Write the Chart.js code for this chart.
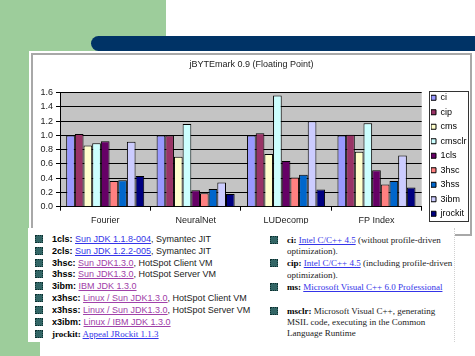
<!DOCTYPE html>
<html><head><meta charset="utf-8">
<script src="https://cdn.jsdelivr.net/npm/chart.js@4/dist/chart.umd.min.js"></script>
<style>
html,body{margin:0;padding:0;background:#fff;width:475px;height:356px;overflow:hidden;position:relative;font-family:"Liberation Sans",Arial,sans-serif}
.g{position:absolute;background:#9dcd9b}
#blue{position:absolute;left:91px;top:36px;width:384px;height:15px;background:#003366;border-radius:7.5px 0 0 7.5px}
#box{position:absolute;left:31px;top:53px;width:437px;height:179px;border:2px solid #a8a8a8;background:#fff}
#cv{position:absolute;left:0;top:0}
#txt{position:absolute;left:28px;top:228px;width:426px;height:114px;background:#fff;border-right:1px dotted #d0d0d0}
.r{position:absolute;height:12px;line-height:12px;white-space:nowrap;font-size:9px;color:#222}
.s{font-family:"Liberation Serif","Times New Roman",serif;font-size:9px;color:#222}
.r b{color:#000}
.bl{color:#3434e8;text-decoration:underline}
.pu{color:#a040a8;text-decoration:underline}
.q{position:absolute;width:6px;height:6px;background:#336666;border:1px dotted #0c3030}
</style></head>
<body>
<div class="g" style="left:0;top:0;width:166px;height:51px"></div>
<div class="g" style="left:0;top:0;width:29px;height:356px"></div>
<div class="g" style="left:0;top:342px;width:40px;height:14px"></div>
<div id="blue"></div>
<div id="box"><canvas id="cv" width="437" height="178"></canvas></div>
<div id="txt">
  <div class="q" style="left:7px;top:7px"></div><div class="r" style="left:24px;top:5px"><b>1cls:</b> <span class="bl">Sun JDK 1.1.8-004</span>, Symantec JIT</div>
  <div class="q" style="left:7px;top:19px"></div><div class="r" style="left:24px;top:17px"><b>2cls:</b> <span class="bl">Sun JDK 1.2.2-005</span>, Symantec JIT</div>
  <div class="q" style="left:7px;top:30.7px"></div><div class="r" style="left:24px;top:28.7px"><b>3hsc:</b> <span class="pu">Sun JDK1.3.0</span>, HotSpot Client VM</div>
  <div class="q" style="left:7px;top:42.3px"></div><div class="r" style="left:24px;top:40.3px"><b>3hss:</b> <span class="pu">Sun JDK1.3.0</span>, HotSpot Server VM</div>
  <div class="q" style="left:7px;top:54px"></div><div class="r" style="left:24px;top:52px"><b>3ibm:</b> <span class="pu">IBM JDK 1.3.0</span></div>
  <div class="q" style="left:7px;top:66px"></div><div class="r" style="left:24px;top:64px"><b>x3hsc:</b> <span class="pu">Linux / Sun JDK1.3.0</span>, HotSpot Client VM</div>
  <div class="q" style="left:7px;top:77.7px"></div><div class="r" style="left:24px;top:75.7px"><b>x3hss:</b> <span class="pu">Linux / Sun JDK1.3.0</span>, HotSpot Server VM</div>
  <div class="q" style="left:7px;top:89.7px"></div><div class="r" style="left:24px;top:87.7px"><b>x3ibm:</b> <span class="pu">Linux / IBM JDK 1.3.0</span></div>
  <div class="q" style="left:7px;top:101.7px"></div><div class="r s" style="left:24px;top:99.7px"><b>jrockit:</b> <span class="bl">Appeal JRockit 1.1.3</span></div>

  <div class="q" style="left:242px;top:8px"></div><div class="r s" style="left:259px;top:6px"><b>ci:</b> <span class="bl">Intel C/C++ 4.5</span> (without profile-driven</div>
  <div class="r s" style="left:259px;top:16.5px">optimization).</div>
  <div class="q" style="left:242px;top:30.7px"></div><div class="r s" style="left:259px;top:28.7px"><b>cip:</b> <span class="bl">Intel C/C++ 4.5</span> (including profile-driven</div>
  <div class="r s" style="left:259px;top:41px">optimization).</div>
  <div class="q" style="left:242px;top:54.7px"></div><div class="r s" style="left:259px;top:52.7px"><b>ms:</b> <span class="bl">Microsoft Visual C++ 6.0 Professional</span></div>
  <div class="q" style="left:242px;top:78.7px"></div><div class="r s" style="left:259px;top:76.7px"><b>msclr:</b> Microsoft Visual C++, generating</div>
  <div class="r s" style="left:259px;top:88px">MSIL code, executing in the Common</div>
  <div class="r s" style="left:259px;top:99px">Language Runtime</div>
</div>
<script>
const categories = ['Fourier', 'NeuralNet', 'LUDecomp', 'FP Index'];
const seriesNames = ['ci', 'cip', 'cms', 'cmsclr', '1cls', '3hsc', '3hss', '3ibm', 'jrockit'];
const ci      = [1.00, 1.00, 1.00, 1.00];
const cip     = [1.02, 1.00, 1.03, 1.01];
const cms     = [0.86, 0.70, 0.74, 0.77];
const cmsclr  = [0.89, 1.16, 1.56, 1.17];
const cls1    = [0.92, 0.23, 0.64, 0.51];
const hsc3    = [0.36, 0.19, 0.41, 0.31];
const hss3    = [0.37, 0.25, 0.45, 0.36];
const ibm3    = [0.91, 0.34, 1.20, 0.72];
const jrockit = [0.43, 0.18, 0.24, 0.27];
const seriesValues = [ci, cip, cms, cmsclr, cls1, hsc3, hss3, ibm3, jrockit];
const seriesColors = ['#9999ff', '#993366', '#ffffcc', '#ccffff', '#660066', '#ff8080', '#0066cc', '#ccccff', '#000080'];

const F = '"Liberation Sans", Arial, sans-serif';

const plotBg = {
  id: 'plotBg',
  beforeDraw(c) {
    const a = c.chartArea, ctx = c.ctx;
    ctx.save();
    ctx.fillStyle = '#c4c4c4';
    ctx.fillRect(a.left, a.top, a.right - a.left, a.bottom - a.top);
    ctx.restore();
  }
};
const legendBorder = {
  id: 'legendBorder',
  afterDraw(c) {
    const L = c.legend, hb = L.legendHitBoxes;
    if (!hb || !hb.length) return;
    const ctx = c.ctx;
    const first = hb[0], last = hb[hb.length - 1];
    const top = Math.round(first.top - 2);
    const bot = Math.round(last.top + 9 + 3);
    const left = Math.round(L.left - 2), right = Math.round(L.right - 1);
    ctx.save();
    ctx.strokeStyle = '#333';
    ctx.lineWidth = 1;
    ctx.strokeRect(left + 0.5, top + 0.5, right - left - 1, bot - top);
    ctx.restore();
  }
};

new Chart(document.getElementById('cv'), {
  type: 'bar',
  data: {
    labels: categories,
    datasets: seriesNames.map((n, i) => ({
      label: n,
      data: seriesValues[i],
      backgroundColor: seriesColors[i],
      borderColor: '#000',
      borderWidth: 1,
      categoryPercentage: 0.863,
      barPercentage: 1.0
    }))
  },
  options: {
    responsive: false,
    animation: false,
    devicePixelRatio: 1,
    layout: { padding: { top: 0, left: 0, right: 0, bottom: 9.25 } },
    plugins: {
      title: {
        display: true, text: 'jBYTEmark 0.9 (Floating Point)', color: '#222',
        font: { family: F, size: 9, weight: 'normal', lineHeight: 1.2 },
        padding: { top: 4.6, bottom: 22.3 }
      },
      legend: {
        position: 'right', fullSize: true, align: 'end', maxWidth: 39,
        labels: {
          boxWidth: 5, boxHeight: 5, padding: 0, color: '#000',
          font: { family: F, size: 9, lineHeight: '14.5px' },
          generateLabels: chart => Chart.defaults.plugins.legend.labels.generateLabels(chart).map(l => Object.assign(l, { text: [l.text] }))
        }
      },
      tooltip: { enabled: false }
    },
    scales: {
      x: {
        grid: { display: true, drawOnChartArea: false, drawTicks: true, tickLength: 4, color: '#000', offset: true },
        border: { display: true, color: '#000' },
        ticks: { color: '#222', font: { family: F, size: 9 }, padding: 4, maxRotation: 0 },
        afterFit: s => { s.height = 17.05; }
      },
      y: {
        min: 0, max: 1.6,
        ticks: { stepSize: 0.2, callback: v => Number(v).toFixed(1), color: '#222', font: { family: F, size: 9 }, padding: 3 },
        grid: { color: '#000', tickLength: 4 },
        border: { color: '#000' },
        afterFit: s => { s.width = 27; }
      },
      y2: {
        position: 'right', display: true,
        grid: { display: false }, ticks: { display: false }, border: { display: false },
        afterFit: s => { s.width = 9.3; }
      }
    }
  },
  plugins: [plotBg, legendBorder]
});
</script>
</body></html>
